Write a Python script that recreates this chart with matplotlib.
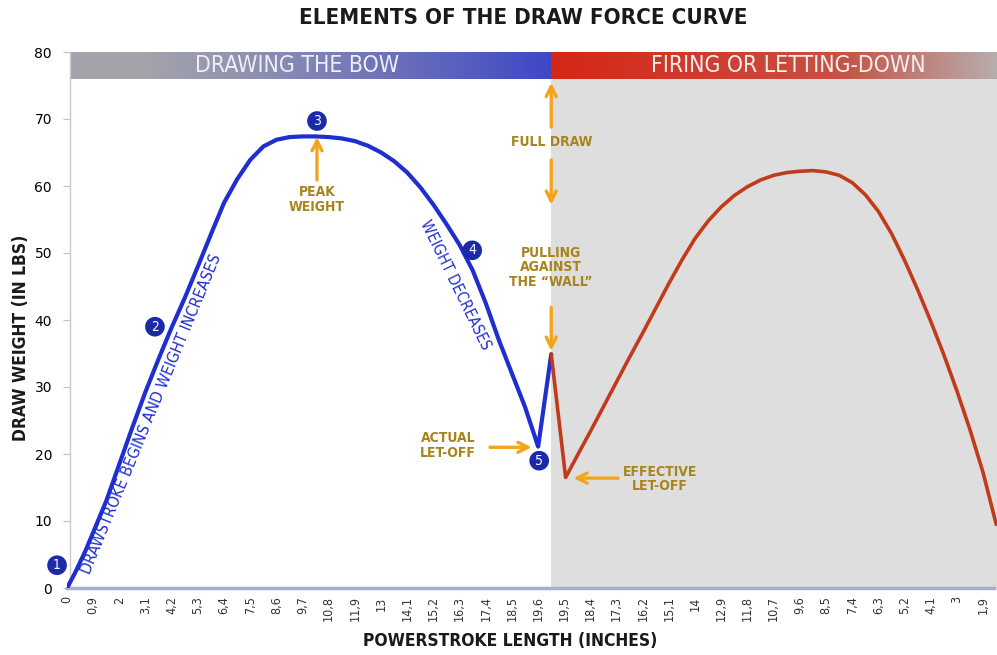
import numpy as np
import matplotlib
matplotlib.use("Agg")
import matplotlib.pyplot as plt

# ---------------- data ----------------
tick_labels = ["0", "0,9", "2", "3,1", "4,2", "5,3", "6,4", "7,5", "8,6", "9,7",
               "10,8", "11,9", "13", "14,1", "15,2", "16,3", "17,4", "18,5", "19,6",
               "19,5", "18,4", "17,3", "16,2", "15,1", "14", "12,9", "11,8", "10,7",
               "9,6", "8,5", "7,4", "6,3", "5,2", "4,1", "3", "1,9"]

# drawing phase (blue), x in tick-index units
draw_pos = [0, 0.3, 0.7, 1.0, 1.5, 2.0, 2.5, 3.0, 3.5, 4.0, 4.5, 5.0, 5.5, 6.0,
            6.5, 7.0, 7.5, 8.0, 8.5, 9.0, 9.5, 10.0, 10.5, 11.0, 11.5, 12.0,
            12.5, 13.0, 13.5, 14.0, 14.5, 15.0, 15.5, 16.0, 16.5, 17.0, 17.5,
            18.0, 18.5]
draw_weight = [0, 2.2, 5.5, 8.3, 13.0, 18.5, 24.0, 29.3, 34.2, 38.9, 43.3, 48.0,
               52.8, 57.5, 61.0, 63.9, 65.9, 66.9, 67.3, 67.4, 67.4, 67.3, 67.1,
               66.7, 66.0, 65.0, 63.7, 62.0, 59.8, 57.2, 54.3, 51.2, 47.4, 42.5,
               37.0, 32.0, 27.0, 21.1, 34.9]

# firing / letting-down phase (red)
fire_pos = [18.5, 19.05, 19.5, 20.0, 20.5, 21.0, 21.5, 22.0, 22.5, 23.0, 23.5,
            24.0, 24.5, 25.0, 25.5, 26.0, 26.5, 27.0, 27.5, 28.0, 28.5, 29.0,
            29.5, 30.0, 30.5, 31.0, 31.5, 32.0, 32.5, 33.0, 33.5, 34.0, 34.5,
            35.0, 35.5]
fire_weight = [34.9, 16.5, 19.8, 23.4, 27.1, 30.8, 34.5, 38.1, 41.8, 45.5, 49.0,
               52.2, 54.8, 56.9, 58.6, 59.9, 60.9, 61.6, 62.0, 62.2, 62.3, 62.1,
               61.6, 60.5, 58.7, 56.2, 52.9, 48.9, 44.5, 39.8, 34.8, 29.4, 23.6,
               17.2, 9.5]

# ---------------- style ----------------
FONT = dict(family="DejaVu Sans", stretch="condensed")
BLUE = "#1f2ecf"
RED = "#c23a1c"
GOLD_TXT = "#a8841c"
GOLD_ARR = "#f2a51c"
CIRCLE = "#1a2aa8"

fig = plt.figure(figsize=(9.97, 6.55), dpi=100)
fig.patch.set_facecolor("white")
ax = fig.add_axes([67 / 997, 67 / 655, 930 / 997, 536 / 655])
XMAX = 35.53
ax.set_xlim(0, XMAX)
ax.set_ylim(0, 80)

# shaded firing region
ax.axvspan(18.5, XMAX, ymin=0, ymax=76 / 80, color="#dedede", zorder=0, lw=0)

# header gradient bars
n = 400
t = np.linspace(0, 1, n)
gray_l = np.array([0.64, 0.64, 0.67])
blue_e = np.array([0.24, 0.28, 0.78])
w = np.clip((t - 0.15) / 0.85, 0, 1) ** 1.2
left_img = (gray_l[None, :] * (1 - w[:, None]) + blue_e[None, :] * w[:, None])[None, :, :]
red_s = np.array([0.84, 0.15, 0.08])
red_m = np.array([0.78, 0.32, 0.27])
gray_r = np.array([0.72, 0.68, 0.68])
w1 = np.clip(t / 0.65, 0, 1)
w2 = np.clip((t - 0.65) / 0.35, 0, 1)
right_img = red_s[None, :] * (1 - w1[:, None]) + red_m[None, :] * w1[:, None]
right_img = right_img * (1 - w2[:, None]) + gray_r[None, :] * w2[:, None]
right_img = right_img[None, :, :]
ax.imshow(left_img, extent=(0.12, 18.5, 76, 80), aspect="auto", zorder=1)
ax.imshow(right_img, extent=(18.5, XMAX, 76, 80), aspect="auto", zorder=1)
ax.set_xlim(0, XMAX)
ax.set_ylim(0, 80)
ax.text(8.79, 77.95, "DRAWING THE BOW", ha="center", va="center", color="#eeeef4",
        fontsize=16.5, **FONT, zorder=3)
ax.text(27.55, 77.95, "FIRING OR LETTING-DOWN", ha="center", va="center",
        color="#f4eeee", fontsize=16.5, **FONT, zorder=3)

# curves
ax.plot(draw_pos, draw_weight, color=BLUE, lw=3, solid_joinstyle="round",
        solid_capstyle="round", zorder=4)
ax.plot(fire_pos, fire_weight, color=RED, lw=2.6, solid_joinstyle="round",
        solid_capstyle="round", zorder=4)

# numbered circles
circles = [(-0.38, 3.4, "1"), (3.36, 39.0, "2"), (9.55, 69.7, "3"),
           (15.48, 50.4, "4"), (18.04, 19.0, "5")]
for cx, cy, lab in circles:
    ax.scatter([cx], [cy], s=200, color=CIRCLE, zorder=6, clip_on=False,
               edgecolor="none")
    ax.text(cx, cy, lab, ha="center", va="center", color="white", fontsize=10,
            **FONT, zorder=7, clip_on=False)

# rotated blue labels
ax.text(3.21, 26.0, "DRAWSTROKE BEGINS AND WEIGHT INCREASES", rotation=67.6,
        rotation_mode="anchor", ha="center", va="center", color=BLUE,
        fontsize=11.5, **FONT, zorder=5)
ax.text(14.83, 45.2, "WEIGHT DECREASES", rotation=-64, rotation_mode="anchor",
        ha="center", va="center", color=BLUE, fontsize=11, **FONT, zorder=5)

# gold annotations
def arrow(x0, y0, x1, y1):
    ax.annotate("", xy=(x1, y1), xytext=(x0, y0),
                arrowprops=dict(arrowstyle="->", color=GOLD_ARR, lw=2.4,
                                mutation_scale=18, shrinkA=0, shrinkB=0),
                zorder=5)

def gtext(x, y, s):
    ax.text(x, y, s, ha="center", va="center", color=GOLD_TXT, fontsize=10,
            fontweight="bold", linespacing=1.05, **FONT, zorder=5)

arrow(9.55, 60.9, 9.55, 67.3)
gtext(9.55, 58.0, "PEAK\nWEIGHT")

arrow(18.5, 68.8, 18.5, 75.4)
gtext(18.5, 66.6, "FULL DRAW")
arrow(18.5, 63.9, 18.5, 57.2)

gtext(18.5, 47.9, "PULLING\nAGAINST\nTHE \u201cWALL\u201d")
arrow(18.5, 41.9, 18.5, 35.4)

gtext(14.56, 21.3, "ACTUAL\nLET-OFF")
arrow(16.16, 21.0, 17.75, 21.0)

gtext(22.66, 16.3, "EFFECTIVE\nLET-OFF")
arrow(21.05, 16.4, 19.35, 16.4)

# axes styling
ax.set_xticks(np.arange(len(tick_labels)))
ax.set_xticklabels(tick_labels, rotation=90, fontsize=9, color="#333333", **FONT)
ax.set_yticks(range(0, 81, 10))
ax.set_yticklabels([str(v) for v in range(0, 81, 10)], fontsize=9.5,
                   color="#333333", **FONT)
ax.tick_params(axis="x", length=0, pad=6)
ax.tick_params(axis="y", length=5, color="#c0c0c8", pad=8)
for side in ("top", "right"):
    ax.spines[side].set_visible(False)
ax.spines["left"].set_color("#c8c8d2")
ax.spines["left"].set_linewidth(1)
ax.spines["left"].set_position(("data", 0.12))
ax.spines["bottom"].set_color("#a6aed2")
ax.spines["bottom"].set_linewidth(2.5)
ax.spines["bottom"].set_linestyle((0, (1, 1)))
ax.spines["bottom"].set_zorder(3)

ax.set_xlabel("POWERSTROKE LENGTH (INCHES)", fontsize=12.5, fontweight="bold",
              color="#1a1a1a", **FONT)
ax.xaxis.set_label_coords((510 - 67) / 930, -(632 - 588) / 536)
ax.set_ylabel("DRAW WEIGHT (IN LBS)", fontsize=12.5, fontweight="bold",
              color="#1a1a1a", **FONT)
ax.yaxis.set_label_coords(-(67 - 30) / 930, (588 - 338) / 536)
fig.text(523 / 997, 1 - 18 / 655, "ELEMENTS OF THE DRAW FORCE CURVE", ha="center",
         va="center", fontsize=16, fontweight="bold", color="#1a1a1a", **FONT)

fig.savefig("out.png", dpi=100, facecolor="white")
